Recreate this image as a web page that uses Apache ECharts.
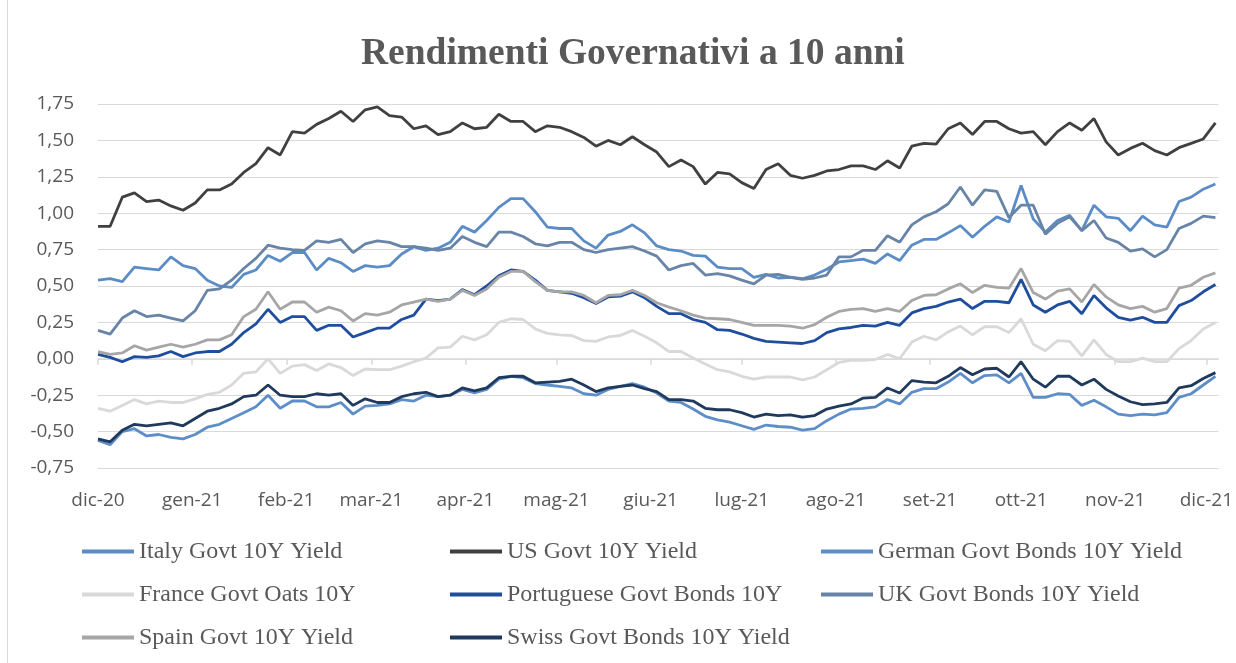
<!DOCTYPE html>
<html>
<head>
<meta charset="utf-8">
<title>Rendimenti Governativi a 10 anni</title>
<script src="https://cdn.jsdelivr.net/npm/echarts@6/dist/echarts.min.js"></script>
<style>
  html, body { margin: 0; padding: 0; background: #fff; }
  #chart { width: 1236px; height: 663px; }
</style>
</head>
<body>
<div id="chart"></div>
<script>
// giorni dal 1 dicembre 2020 (un punto ogni 4 giorni)
var dayOffsets = [0,4,8,12,16,20,24,28,32,36,40,44,48,52,56,60,64,68,72,76,80,84,88,92,96,100,104,108,112,116,120,124,128,132,136,140,144,148,152,156,160,164,168,172,176,180,184,188,192,196,200,204,208,212,216,220,224,228,232,236,240,244,248,252,256,260,264,268,272,276,280,284,288,292,296,300,304,308,312,316,320,324,328,332,336,340,344,348,352,356,360,364,368];

// etichette dei mesi e loro posizione (giorni)
var monthDays = [0,31,62,90,121,151,182,212,243,274,304,335,365];
var monthLabels = ['dic-20','gen-21','feb-21','mar-21','apr-21','mag-21','giu-21','lug-21','ago-21','set-21','ott-21','nov-21','dic-21'];

var italy = [0.54,0.55,0.53,0.63,0.62,0.61,0.70,0.64,0.62,0.54,0.50,0.49,0.58,0.61,0.71,0.67,0.73,0.73,0.61,
  0.69,0.66,0.60,0.64,0.63,0.64,0.72,0.77,0.745,0.76,0.80,0.91,0.87,0.95,1.04,1.10,1.10,1.01,
  0.905,0.895,0.895,0.81,0.76,0.85,0.875,0.92,0.865,0.775,0.75,0.74,0.71,0.705,0.63,0.62,0.62,0.56,0.58,
  0.555,0.56,0.55,0.575,0.615,0.665,0.675,0.685,0.655,0.72,0.675,0.78,0.82,0.82,0.865,0.915,0.835,0.91,
  0.975,0.94,1.19,0.96,0.87,0.95,0.985,0.88,1.055,0.975,0.965,0.88,0.98,0.92,0.905,1.08,1.11,1.165,1.20];

var us = [0.91,0.91,1.11,1.14,1.08,1.09,1.05,1.02,1.07,1.16,1.16,1.20,1.28,1.34,1.45,1.40,1.56,1.55,1.61,
  1.65,1.70,1.63,1.71,1.73,1.67,1.66,1.58,1.60,1.54,1.56,1.62,1.58,1.59,1.68,1.63,1.63,1.56,
  1.60,1.59,1.56,1.52,1.46,1.50,1.47,1.525,1.47,1.42,1.32,1.365,1.32,1.20,1.28,1.27,1.21,1.17,1.30,
  1.34,1.26,1.24,1.26,1.29,1.30,1.325,1.325,1.30,1.36,1.31,1.46,1.48,1.475,1.58,1.62,1.54,1.63,
  1.63,1.58,1.55,1.56,1.47,1.56,1.62,1.57,1.65,1.49,1.40,1.445,1.48,1.43,1.40,1.45,1.48,1.51,1.62];

var german = [-0.56,-0.59,-0.50,-0.48,-0.53,-0.52,-0.54,-0.55,-0.52,-0.47,-0.45,-0.41,-0.37,-0.33,-0.25,-0.34,-0.29,-0.29,-0.33,
  -0.33,-0.30,-0.38,-0.325,-0.32,-0.31,-0.28,-0.29,-0.25,-0.26,-0.25,-0.21,-0.235,-0.21,-0.14,-0.12,-0.13,-0.17,
  -0.18,-0.19,-0.20,-0.24,-0.25,-0.21,-0.19,-0.17,-0.195,-0.235,-0.29,-0.30,-0.345,-0.395,-0.42,-0.435,-0.46,-0.485,-0.455,
  -0.465,-0.47,-0.49,-0.48,-0.425,-0.38,-0.345,-0.34,-0.33,-0.28,-0.31,-0.23,-0.205,-0.205,-0.16,-0.10,-0.165,-0.115,
  -0.11,-0.165,-0.10,-0.265,-0.265,-0.24,-0.245,-0.32,-0.285,-0.33,-0.38,-0.39,-0.38,-0.385,-0.37,-0.265,-0.24,-0.18,-0.12];

var france = [-0.34,-0.36,-0.32,-0.28,-0.31,-0.29,-0.30,-0.30,-0.275,-0.245,-0.23,-0.18,-0.10,-0.09,0.00,-0.10,-0.05,-0.04,-0.08,
  -0.035,-0.06,-0.115,-0.07,-0.075,-0.075,-0.05,-0.02,0.005,0.075,0.08,0.155,0.13,0.165,0.25,0.275,0.27,0.205,
  0.175,0.165,0.16,0.125,0.12,0.15,0.16,0.195,0.155,0.11,0.05,0.05,0.005,-0.035,-0.075,-0.09,-0.12,-0.14,-0.125,
  -0.125,-0.125,-0.145,-0.125,-0.075,-0.025,-0.01,-0.01,-0.005,0.03,0.00,0.115,0.155,0.13,0.185,0.225,0.165,0.22,
  0.22,0.18,0.275,0.10,0.055,0.125,0.12,0.02,0.13,0.03,-0.02,-0.02,0.005,-0.02,-0.02,0.07,0.125,0.205,0.25];

var portugal = [0.03,0.01,-0.02,0.015,0.01,0.02,0.05,0.015,0.04,0.05,0.05,0.10,0.18,0.24,0.34,0.25,0.29,0.29,0.195,
  0.23,0.23,0.15,0.18,0.21,0.21,0.27,0.30,0.41,0.40,0.41,0.475,0.44,0.50,0.57,0.61,0.60,0.54,
  0.47,0.46,0.45,0.42,0.38,0.425,0.43,0.46,0.42,0.36,0.31,0.31,0.27,0.25,0.20,0.195,0.17,0.14,0.12,
  0.115,0.11,0.105,0.125,0.18,0.205,0.215,0.23,0.225,0.25,0.23,0.315,0.345,0.36,0.39,0.41,0.345,0.395,
  0.395,0.385,0.545,0.37,0.32,0.37,0.395,0.31,0.435,0.35,0.285,0.265,0.285,0.25,0.25,0.365,0.40,0.46,0.51];

var uk = [0.195,0.17,0.28,0.33,0.29,0.30,0.28,0.26,0.33,0.47,0.48,0.54,0.62,0.69,0.78,0.76,0.75,0.745,0.81,
  0.80,0.82,0.73,0.79,0.81,0.80,0.77,0.77,0.76,0.745,0.76,0.84,0.80,0.77,0.87,0.87,0.84,0.79,
  0.775,0.80,0.80,0.75,0.73,0.75,0.76,0.77,0.74,0.705,0.61,0.64,0.655,0.575,0.585,0.57,0.54,0.515,0.575,
  0.58,0.56,0.545,0.555,0.575,0.70,0.70,0.745,0.745,0.845,0.80,0.92,0.975,1.01,1.065,1.18,1.055,1.16,
  1.15,0.97,1.055,1.055,0.855,0.93,0.975,0.88,0.95,0.83,0.80,0.74,0.755,0.70,0.75,0.895,0.93,0.98,0.97];

var spain = [0.05,0.03,0.04,0.09,0.06,0.08,0.10,0.08,0.10,0.13,0.13,0.165,0.29,0.34,0.46,0.34,0.39,0.39,0.32,
  0.355,0.33,0.26,0.31,0.30,0.32,0.37,0.39,0.41,0.395,0.41,0.47,0.435,0.48,0.56,0.60,0.60,0.53,
  0.47,0.46,0.46,0.435,0.385,0.435,0.44,0.47,0.435,0.385,0.355,0.33,0.30,0.28,0.275,0.27,0.25,0.23,0.23,
  0.23,0.225,0.21,0.235,0.285,0.325,0.34,0.345,0.325,0.345,0.325,0.40,0.435,0.44,0.48,0.515,0.455,0.505,
  0.49,0.485,0.62,0.455,0.41,0.465,0.48,0.39,0.51,0.425,0.37,0.345,0.36,0.32,0.345,0.485,0.505,0.56,0.59];

var swiss = [-0.55,-0.57,-0.49,-0.45,-0.46,-0.45,-0.44,-0.46,-0.41,-0.36,-0.34,-0.31,-0.26,-0.25,-0.18,-0.25,-0.26,-0.26,-0.24,
  -0.25,-0.24,-0.32,-0.275,-0.30,-0.30,-0.26,-0.24,-0.23,-0.26,-0.25,-0.20,-0.22,-0.20,-0.13,-0.12,-0.12,-0.165,
  -0.16,-0.155,-0.14,-0.18,-0.225,-0.20,-0.19,-0.18,-0.205,-0.225,-0.28,-0.28,-0.29,-0.34,-0.35,-0.35,-0.37,-0.40,-0.38,
  -0.39,-0.385,-0.40,-0.39,-0.345,-0.325,-0.31,-0.27,-0.265,-0.20,-0.235,-0.15,-0.16,-0.165,-0.12,-0.06,-0.11,-0.07,
  -0.065,-0.125,-0.02,-0.14,-0.195,-0.12,-0.12,-0.18,-0.14,-0.21,-0.255,-0.295,-0.315,-0.31,-0.30,-0.20,-0.185,-0.135,-0.095];

var seriesList = [
  { name: 'Italy Govt 10Y Yield', values: italy, color: '#5b8cc6' },
  { name: 'US Govt 10Y Yield', values: us, color: '#404040' },
  { name: 'German Govt Bonds 10Y Yield', values: german, color: '#5e8ec8' },
  { name: 'France Govt Oats 10Y', values: france, color: '#d9d9d9' },
  { name: 'Portuguese Govt Bonds 10Y', values: portugal, color: '#1f4e9e' },
  { name: 'UK Govt Bonds 10Y Yield', values: uk, color: '#6884a6' },
  { name: 'Spain Govt 10Y Yield', values: spain, color: '#a6a6a6' },
  { name: 'Swiss Govt Bonds 10Y Yield', values: swiss, color: '#1f3a5c' }
];

var labelColor = '#595959';
var gridTop = 104, gridBottom = 195, chartHeight = 663;
var yMin = -0.75, yMax = 1.75;
// distanza della linea dello zero dal fondo del grafico
var plotHeight = chartHeight - gridTop - gridBottom;
var zeroOffset = plotHeight * (0 - yMin) / (yMax - yMin);

function legendColumn(names, left) {
  return {
    data: names,
    orient: 'vertical',
    left: left,
    top: 539,
    padding: 0,
    itemGap: 18,
    itemWidth: 52,
    itemHeight: 4,
    icon: 'rect',
    textStyle: {
      fontFamily: 'Liberation Serif',
      fontSize: 24,
      lineHeight: 25,
      color: labelColor
    }
  };
}

var chart = echarts.init(document.getElementById('chart'));

chart.setOption({
  animation: false,
  backgroundColor: '#fff',
  title: {
    text: 'Rendimenti Governativi a 10 anni',
    left: 356,
    top: 30,
    textStyle: {
      fontFamily: 'Liberation Serif',
      fontWeight: 'bold',
      fontSize: 37.5,
      color: labelColor
    }
  },
  graphic: [{
    type: 'line',
    shape: { x1: 7.5, y1: 0, x2: 7.5, y2: 663 },
    style: { stroke: '#d9d9d9', lineWidth: 1 }
  }],
  legend: [
    legendColumn(['Italy Govt 10Y Yield', 'France Govt Oats 10Y', 'Spain Govt 10Y Yield'], 82),
    legendColumn(['US Govt 10Y Yield', 'Portuguese Govt Bonds 10Y', 'Swiss Govt Bonds 10Y Yield'], 450),
    legendColumn(['German Govt Bonds 10Y Yield', 'UK Govt Bonds 10Y Yield'], 821)
  ],
  grid: {
    left: 98,
    right: 17,
    top: gridTop,
    bottom: gridBottom
  },
  xAxis: [
    {
      // etichette dei mesi in basso
      type: 'value',
      min: 0,
      max: 369,
      position: 'bottom',
      axisLine: { show: false, onZero: false },
      axisTick: { show: false },
      axisLabel: {
        customValues: monthDays,
        margin: 23,
        color: labelColor,
        fontFamily: 'Open Sans',
        fontSize: 19,
        formatter: function (v) {
          return monthLabels[monthDays.indexOf(v)];
        }
      },
      splitLine: { show: false }
    },
    {
      // linea dello zero con le tacche dei mesi
      type: 'value',
      min: 0,
      max: 369,
      position: 'bottom',
      offset: -zeroOffset,
      axisLine: {
        show: true,
        onZero: false,
        lineStyle: { color: '#d9d9d9', width: 1.5 }
      },
      axisTick: {
        show: true,
        length: 6,
        customValues: monthDays,
        lineStyle: { color: '#d9d9d9', width: 1.5 }
      },
      axisLabel: { show: false },
      splitLine: { show: false }
    }
  ],
  yAxis: {
    type: 'value',
    min: yMin,
    max: yMax,
    interval: 0.25,
    axisLine: { show: false },
    axisTick: { show: false },
    axisLabel: {
      margin: 24,
      color: labelColor,
      fontFamily: 'Open Sans',
      fontSize: 19,
      formatter: function (v) {
        return v.toFixed(2).replace('.', ',');
      }
    },
    splitLine: {
      lineStyle: { color: '#d9d9d9', width: 1 }
    }
  },
  series: seriesList.map(function (s) {
    return {
      name: s.name,
      type: 'line',
      xAxisIndex: 0,
      symbol: 'none',
      color: s.color,
      lineStyle: { width: 2.8, color: s.color },
      data: dayOffsets.map(function (d, i) { return [d, s.values[i]]; })
    };
  })
});
</script>
</body>
</html>
